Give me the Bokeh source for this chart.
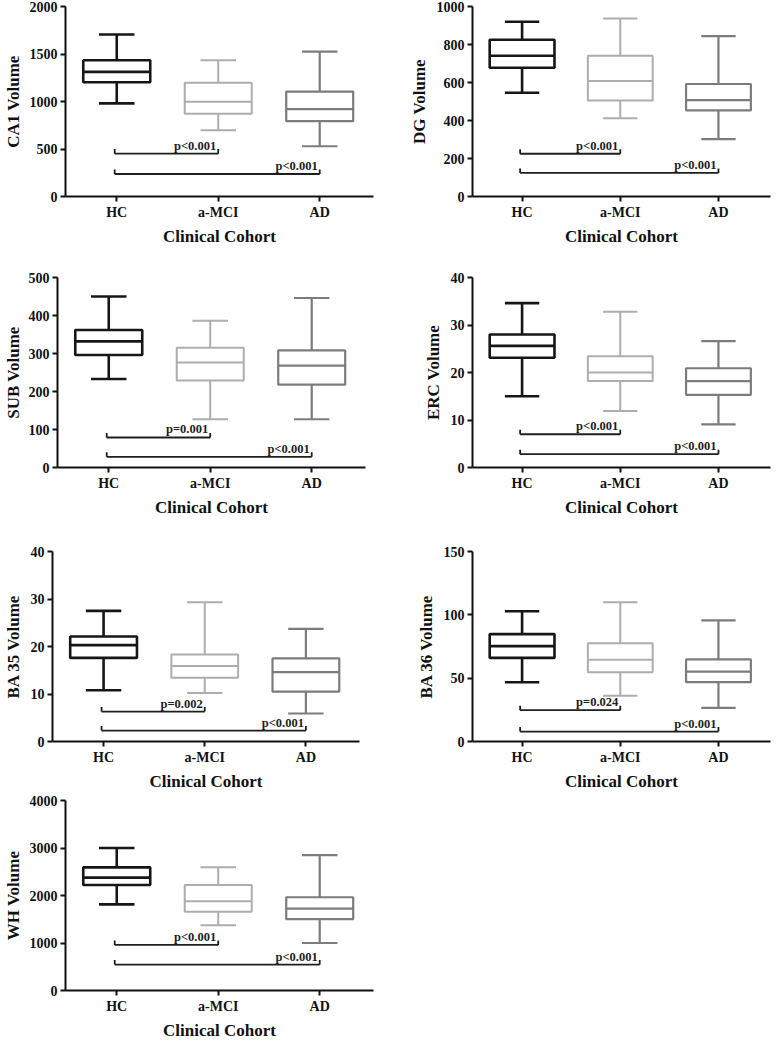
from bokeh.plotting import figure
from bokeh.layouts import column, row
from bokeh.models import ColumnDataSource, Range1d, FixedTicker, SingleIntervalTicker
from bokeh.core.properties import value
from bokeh.embed import file_html
from bokeh.resources import INLINE

categories = ["HC", "a-MCI", "AD"]
group_colors = ["#161616", "#adadad", "#7c7c7c"]
group_widths = [2.6, 2.0, 2.2]

# CA1
ca1_low = [980, 698, 529]
ca1_q1 = [1203, 871, 793]
ca1_med = [1312, 997, 919]
ca1_q3 = [1434, 1197, 1105]
ca1_high = [1705, 1434, 1525]
ca1_brackets = [451, 237]
ca1_p = ["p<0.001", "p<0.001"]

# DG
dg_low = [546, 412, 302]
dg_q1 = [678, 505, 453]
dg_med = [741, 608, 507]
dg_q3 = [825, 741, 592]
dg_high = [920, 937, 844]
dg_brackets = [225, 124]
dg_p = ["p<0.001", "p<0.001"]

# SUB
sub_low = [233, 127, 127]
sub_q1 = [296, 229, 218]
sub_med = [332, 276, 268]
sub_q3 = [362, 315, 308]
sub_high = [450, 386, 446]
sub_brackets = [79, 28]
sub_p = ["p=0.001", "p<0.001"]

# ERC
erc_low = [15.0, 11.9, 9.1]
erc_q1 = [23.1, 18.2, 15.3]
erc_med = [25.6, 20.0, 18.2]
erc_q3 = [28.0, 23.4, 20.9]
erc_high = [34.6, 32.8, 26.6]
erc_brackets = [7.0, 2.8]
erc_p = ["p<0.001", "p<0.001"]

# BA 35
ba35_low = [10.8, 10.2, 5.9]
ba35_q1 = [17.6, 13.4, 10.5]
ba35_med = [20.3, 15.9, 14.6]
ba35_q3 = [22.1, 18.3, 17.5]
ba35_high = [27.5, 29.3, 23.7]
ba35_brackets = [6.3, 2.3]
ba35_p = ["p=0.002", "p<0.001"]

# BA 36
ba36_low = [46.8, 36.1, 26.5]
ba36_q1 = [66.0, 54.6, 46.8]
ba36_med = [75.3, 64.5, 55.2]
ba36_q3 = [84.8, 77.6, 64.8]
ba36_high = [102.8, 110.0, 95.6]
ba36_brackets = [24.7, 7.8]
ba36_p = ["p=0.024", "p<0.001"]

# WH
wh_low = [1814, 1373, 1000]
wh_q1 = [2220, 1658, 1502]
wh_med = [2376, 1881, 1725]
wh_q3 = [2593, 2220, 1963]
wh_high = [3000, 2593, 2851]
wh_brackets = [959, 546]
wh_p = ["p<0.001", "p<0.001"]

FONT = value("Liberation Serif")
BOX_W = 0.66
CAP_W = 0.35
FRAME_H = 190


def make_panel(ylabel, ymax, interval, low, q1, med, q3, high, br_y, br_txt,
               left, lab_standoff, fw, right, top, bottom):
    p = figure(frame_width=fw, frame_height=FRAME_H,
               x_range=Range1d(0.495, 3.53), y_range=Range1d(0, ymax),
               output_backend="svg", toolbar_location=None,
               min_border_left=left, min_border_right=right,
               min_border_top=top, min_border_bottom=bottom)
    p.outline_line_color = None
    p.grid.visible = False
    p.background_fill_color = "white"
    p.border_fill_color = "white"

    xs = [i + 1 for i in range(len(categories))]
    src = ColumnDataSource(dict(
        x=xs, low=low, q1=q1, med=med, q3=q3, high=high,
        color=group_colors, lw=group_widths,
        cl=[x - CAP_W / 2 for x in xs], cr=[x + CAP_W / 2 for x in xs],
        ml=[x - BOX_W / 2 for x in xs], mr=[x + BOX_W / 2 for x in xs],
    ))
    # whiskers
    p.segment(x0="x", y0="low", x1="x", y1="q1", source=src, line_color="color", line_width="lw")
    p.segment(x0="x", y0="q3", x1="x", y1="high", source=src, line_color="color", line_width="lw")
    # caps
    p.segment(x0="cl", y0="low", x1="cr", y1="low", source=src, line_color="color", line_width="lw")
    p.segment(x0="cl", y0="high", x1="cr", y1="high", source=src, line_color="color", line_width="lw")
    # boxes
    p.vbar(x="x", width=BOX_W, bottom="q1", top="q3", source=src,
           fill_color="white", line_color="color", line_width="lw")
    # medians
    p.segment(x0="ml", y0="med", x1="mr", y1="med", source=src, line_color="color", line_width="lw")

    # significance brackets: HC vs a-MCI, HC vs AD
    ends = [2, 3]
    tick_h = ymax * 0.024
    bsrc = ColumnDataSource(dict(
        x0=[0.98, 0.98], x1=ends, y=br_y, yt=[y + tick_h for y in br_y], t=br_txt))
    bc = "#1e1e1e"
    p.segment(x0="x0", y0="y", x1="x1", y1="y", source=bsrc, line_color=bc, line_width=1.8)
    p.segment(x0="x0", y0="y", x1="x0", y1="yt", source=bsrc, line_color=bc, line_width=1.8)
    p.segment(x0="x1", y0="y", x1="x1", y1="yt", source=bsrc, line_color=bc, line_width=1.8)
    p.text(x="x1", y="y", text="t", source=bsrc, text_align="right", text_baseline="bottom",
           x_offset=-2, y_offset=-1, text_font=FONT, text_font_style="bold",
           text_font_size="12.5px", text_color="#1e1e1e")

    p.xaxis.ticker = FixedTicker(ticks=xs)
    p.xaxis.major_label_overrides = {x: c for x, c in zip(xs, categories)}
    p.yaxis.ticker = SingleIntervalTicker(interval=interval, num_minor_ticks=0)
    p.xaxis.axis_label = "Clinical Cohort"
    p.yaxis.axis_label = ylabel
    for ax in (p.xaxis[0], p.yaxis[0]):
        ax.axis_line_width = 2
        ax.axis_line_color = "#111111"
        ax.major_tick_line_width = 2
        ax.major_tick_line_color = "#111111"
        ax.major_tick_out = 5
        ax.major_tick_in = 0
        ax.minor_tick_line_color = None
        ax.major_label_text_font = "Liberation Serif"
        ax.major_label_text_font_style = "bold"
        ax.major_label_text_font_size = "14px"
        ax.major_label_text_color = "#111111"
        ax.axis_label_text_font = "Liberation Serif"
        ax.axis_label_text_font_style = "bold"
        ax.axis_label_text_font_size = "17px"
        ax.axis_label_text_color = "#111111"
        ax.major_label_standoff = 3
    p.xaxis.axis_label_standoff = 4
    p.yaxis.axis_label_standoff = lab_standoff
    return p


p1 = make_panel("CA1 Volume", 2000, 500, ca1_low, ca1_q1, ca1_med, ca1_q3, ca1_high,
                ca1_brackets, ca1_p, 60, 4, 308, 22, 6, 50)
p2 = make_panel("DG Volume", 1000, 200, dg_low, dg_q1, dg_med, dg_q3, dg_high,
                dg_brackets, dg_p, 77, 5, 298, 1, 6, 50)
p3 = make_panel("SUB Volume", 500, 100, sub_low, sub_q1, sub_med, sub_q3, sub_high,
                sub_brackets, sub_p, 52, 3, 308, 30, 29, 50)
p4 = make_panel("ERC Volume", 40, 10, erc_low, erc_q1, erc_med, erc_q3, erc_high,
                erc_brackets, erc_p, 77, 5, 298, 1, 29, 50)
p5 = make_panel("BA 35 Volume", 40, 10, ba35_low, ba35_q1, ba35_med, ba35_q3, ba35_high,
                ba35_brackets, ba35_p, 47, 5, 307, 36, 32, 50)
p6 = make_panel("BA 36 Volume", 150, 50, ba36_low, ba36_q1, ba36_med, ba36_q3, ba36_high,
                ba36_brackets, ba36_p, 77, 5, 298, 1, 32, 50)
p7 = make_panel("WH Volume", 4000, 1000, wh_low, wh_q1, wh_med, wh_q3, wh_high,
                wh_brackets, wh_p, 60, 4, 308, 22, 7, 50)

layout = column(row(p1, p2), row(p3, p4), row(p5, p6), row(p7))
open("out.html", "w").write(file_html(layout, INLINE))
